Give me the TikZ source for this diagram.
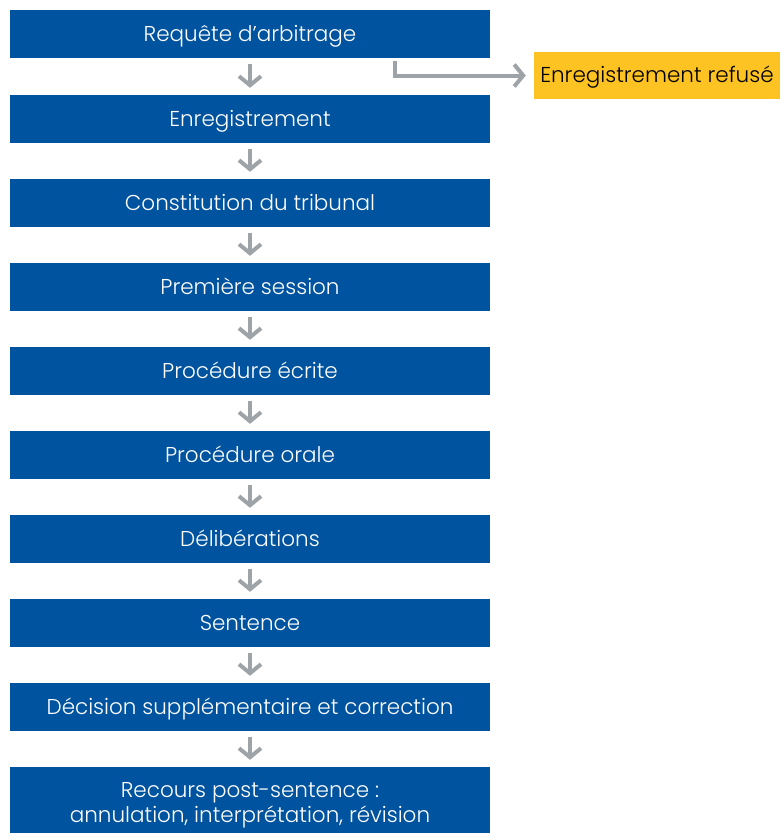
\documentclass[tikz,border=0pt]{standalone}
\usepackage{fontspec}
\setmainfont{Poppins}[UprightFont={* Light}]
\usetikzlibrary{arrows.meta}
\definecolor{bleu}{HTML}{00539F}
\definecolor{jaune}{HTML}{FDC323}
\definecolor{gris}{HTML}{9EA3A8}

\begin{document}
\begin{tikzpicture}[x=1pt, y=-1pt,
    box/.style={fill=bleu, text=white, minimum width=480pt, minimum height=48pt, inner sep=0pt, align=center, text height=16pt, text depth=2pt, font=\fontsize{21.5}{25}\selectfont},
    refus/.style={fill=jaune, text=black, minimum width=246pt, minimum height=47pt, inner sep=0pt, text height=16pt, text depth=2pt, font=\fontsize{21.5}{25}\selectfont},
    down/.style={draw=gris, line width=4pt, -{Straight Barb[length=9pt, width=22pt]}, shorten <=6pt, shorten >=7pt}]
    \useasboundingbox (0,0) rectangle (782,833);

    \node[box] (1) at (250,34) {Requête d’arbitrage};
    \node[box] (2) at (250,119) {Enregistrement};
    \node[box] (3) at (250,203) {Constitution du tribunal};
    \node[box] (4) at (250,287) {Première session};
    \node[box] (5) at (250,371) {Procédure écrite};
    \node[box] (6) at (250,455) {Procédure orale};
    \node[box] (7) at (250,539) {Délibérations};
    \node[box] (8) at (250,623) {Sentence};
    \node[box] (9) at (250,707) {Décision supplémentaire et correction};
    % last box runs past the bottom edge
    \node[box, text height=, text depth=, minimum height=76pt] (10) at (250,805) {Recours post-sentence :\\annulation, interprétation, révision};

    \node[refus] (r) at (657,75.5) {Enregistrement refusé};
    \coordinate (c) at (395,61);

    \draw (1) edge[down] (2) (2) edge[down] (3) (3) edge[down] (4) (4) edge[down] (5) (5) edge[down] (6);
    \draw (6) edge[down] (7) (7) edge[down] (8) (8) edge[down] (9) (9) edge[down] (10);
    \draw[down, shorten <=0pt, shorten >=8pt] (c) |- (r);

  \end{tikzpicture}
\end{document}
